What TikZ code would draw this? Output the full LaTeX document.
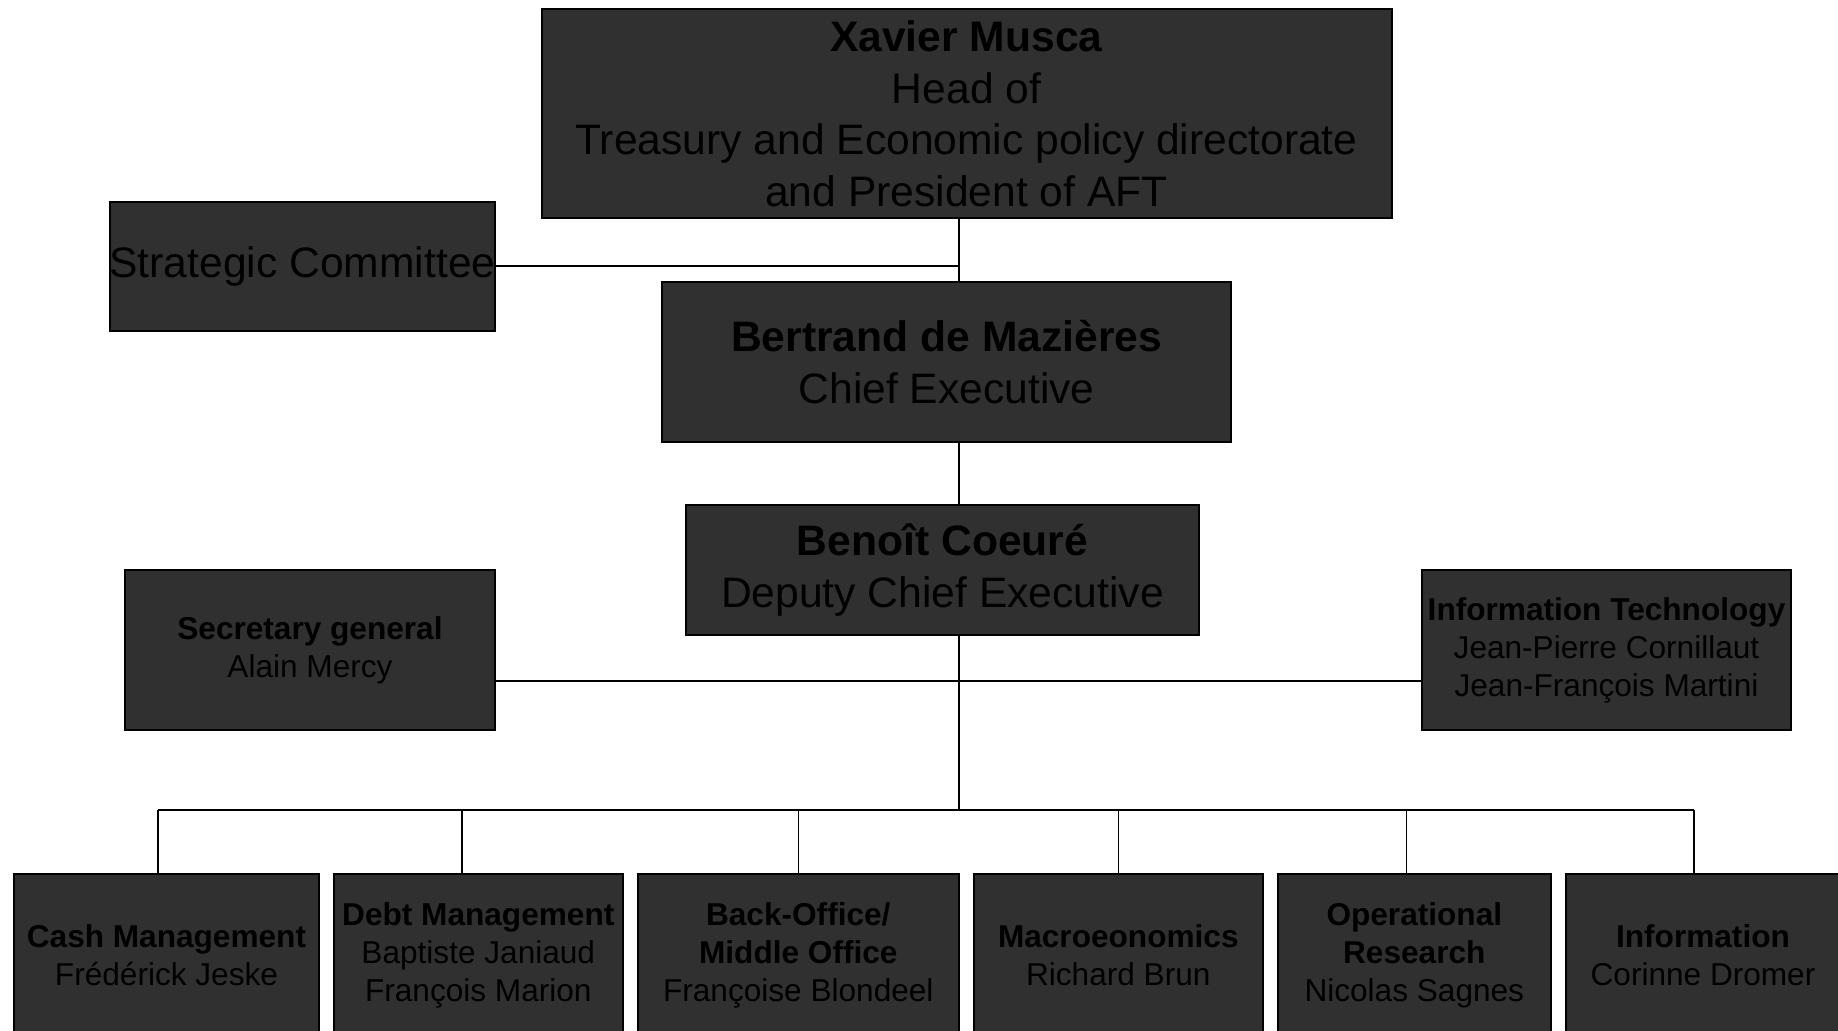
\documentclass[tikz,border=0pt]{standalone}
\usepackage{fontspec}
\setmainfont{Liberation Sans}
\usepackage{tikz}
\definecolor{boxgrey}{HTML}{303030}
\tikzset{
  orgbox/.style={draw=black, line width=1pt, fill=boxgrey, inner sep=0pt,
    align=center, text=black},
  bigtext/.style={font=\fontsize{21.3}{25.8}\selectfont},
  smalltext/.style={font=\fontsize{15.8}{19}\selectfont},
  link/.style={draw=black, line width=0.8pt},
}

\begin{document}
\begin{tikzpicture}[x=0.5pt, y=-0.5pt]
      \useasboundingbox (0,0) rectangle (1838,1031);
      % top of the chart
      \node[orgbox, bigtext, minimum width=425pt, minimum height=104.3pt] (musca) at (966.5,113.7)
	{\textbf{Xavier Musca}\\Head of\\Treasury and Economic policy directorate\\and President of AFT};
      \node[orgbox, bigtext, minimum width=192.3pt, minimum height=64.5pt] (strat) at (302.5,266.1)
	{Strategic Committee};
      \node[orgbox, bigtext, minimum width=284.3pt, minimum height=79.7pt] (mazieres) at (946.6,362.2)
	{\textbf{Bertrand de Mazières}\\Chief Executive};
      \node[orgbox, bigtext, minimum width=256.8pt, minimum height=65pt] (coeure) at (942.5,570.3)
	{\textbf{Benoît Coeuré}\\Deputy Chief Executive};
      \node[orgbox, smalltext, minimum width=184.7pt, minimum height=80.3pt] (secgen) at (310,650)
	{\textbf{Secretary general}\\Alain Mercy};
      \node[orgbox, smalltext, minimum width=184.7pt, minimum height=80.3pt] (infotech) at (1606.5,650)
	{\textbf{Information Technology}\\Jean-Pierre Cornillaut\\Jean-François Martini};
      % departments
      \foreach \i/\x/\w/\txt in {
	1/166.5/152.4/{\textbf{Cash Management}\\Frédérick Jeske},
	2/478.3/144.2/{\textbf{Debt Management}\\Baptiste Janiaud\\François Marion},
	3/798.3/160.6/{\textbf{Back-Office/}\\\textbf{Middle Office}\\Françoise Blondeel},
	4/1118.3/144.2/{\textbf{Macroeonomics}\\Richard Brun},
	5/1414.3/136.6/{\textbf{Operational}\\\textbf{Research}\\Nicolas Sagnes},
	6/1703/137/{\textbf{Information}\\Corinne Dromer}} {
	\node[orgbox, smalltext, minimum width=\w pt, minimum height=82pt] (b\i) at (\x,955.5) {\txt};
      };
      % junctions
      \coordinate (j1) at (958.9,266.1);
      \coordinate (j2) at (958.9,681);
      \coordinate (j3) at (958.9,810);
      \foreach \i/\x in {1/158.2, 2/461.8, 3/798.3, 4/1118.3, 5/1406.6, 6/1693.8} {
	\coordinate (d\i) at (\x,810);
      };
      % lines
      \draw[link] (j1 |- musca.south) -- (j1 |- mazieres.north);
      \draw[link] (strat.east |- j1) -- (j1);
      \draw[link] (j1 |- mazieres.south) -- (j1 |- coeure.north);
      \draw[link] (j1 |- coeure.south) -- (j3);
      \draw[link] (secgen.east |- j2) -- (infotech.west |- j2);
      \draw[link] (d1) -- (d6);
      \foreach \i in {1,...,6} {
	\draw[link] (d\i) -- (d\i |- b\i.north);
      };
    \end{tikzpicture}
\end{document}
